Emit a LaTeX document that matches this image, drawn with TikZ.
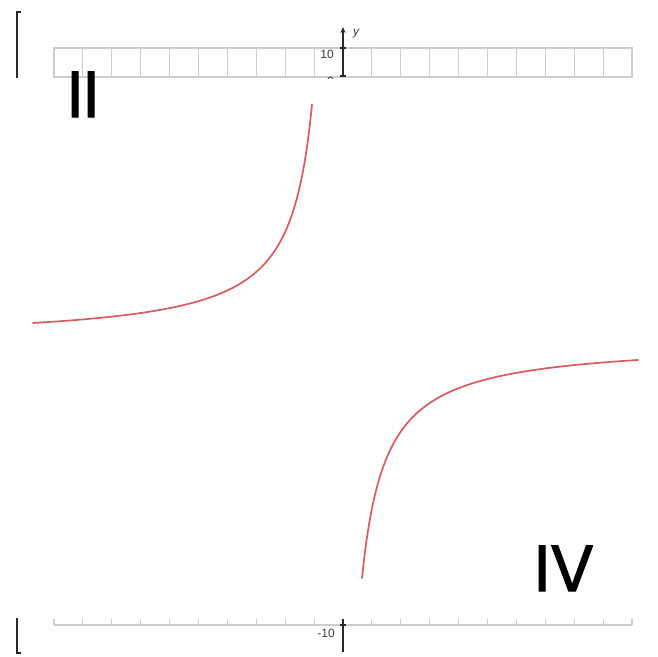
\documentclass[tikz,border=0pt]{standalone}
\usepackage{fontspec}
\setmainfont{Poppins}
\newfontfamily\quadfont[FakeBold=1.6]{Poppins}
\newfontfamily\axfont{Liberation Sans}
\usetikzlibrary{arrows.meta}
\definecolor{gridgray}{RGB}{205,205,205}
\definecolor{curvered}{RGB}{220,90,95}
\definecolor{axdark}{RGB}{40,40,40}
\tikzset{
  gridline/.style={draw=gridgray, line width=1.1pt},
  axisline/.style={draw=axdark, line width=1.6pt},
  bracketline/.style={draw=axdark, line width=2pt},
  curveline/.style={draw=curvered, line width=1.7pt, line cap=round},
  smalllabel/.style={font=\axfont\fontsize{12}{12}\selectfont, text=axdark!90, inner sep=0pt},
  quadlabel/.style={font=\quadfont\fontsize{65}{65}\selectfont, inner sep=0pt, anchor=base west}
}
\begin{document}
\begin{tikzpicture}[x=1pt,y=-1pt]
\useasboundingbox (0,0) rectangle (658,656);
% top grid strip
\draw[gridline] (54,48) rectangle (632,77);
\foreach \k in {1,...,19} {
  \draw[gridline] ({54+28.9*\k},48) -- ({54+28.9*\k},77);
}
% top y axis
\coordinate (ytop) at (343,27);
\coordinate (ybot) at (343,77);
\draw[axisline, -{Stealth[length=6pt,width=5pt]}] (ybot) -- (ytop);
\draw[axisline] (340,48) -- (346,48);
\draw[axisline] (340,76) -- (346,76);
\node[smalllabel, anchor=east] (ten) at (334,54) {10};
\node[smalllabel, anchor=west] (ylab) at (353,34) {\itshape y};
\begin{scope}
\clip (300,70) rectangle (340,78);
\node[smalllabel, anchor=east] (zero) at (334,81) {0};
\end{scope}
% left bracket top
\draw[bracketline] (21,12) -- (17,12) -- (17,78);
% bottom axis strip
\draw[gridline] (54,625) -- (632,625);
\foreach \k in {0,...,20} {
  \draw[gridline] ({54+28.9*\k},619) -- ({54+28.9*\k},625);
}
\coordinate (btop) at (343,619);
\coordinate (bbot) at (343,652);
\draw[axisline] (bbot) -- (btop);
\draw[axisline] (340,625) -- (346,625);
\node[smalllabel, anchor=east] (mten) at (335,633) {-10};
% left bracket bottom
\draw[bracketline] (17,618) -- (17,653) -- (21,653);
% hyperbola branches
\draw[curveline] plot[domain=33:312, samples=220, smooth] (\x, {341 - 5440/(335-\x)});
\draw[curveline] plot[domain=362:638, samples=220, smooth] (\x, {341 + 5688/(\x-338)});
% quadrant labels
\node[quadlabel] (qII) at (67,117) {II};
\node[quadlabel] (qIV) at (534,591) {IV};
\end{tikzpicture}
\end{document}
